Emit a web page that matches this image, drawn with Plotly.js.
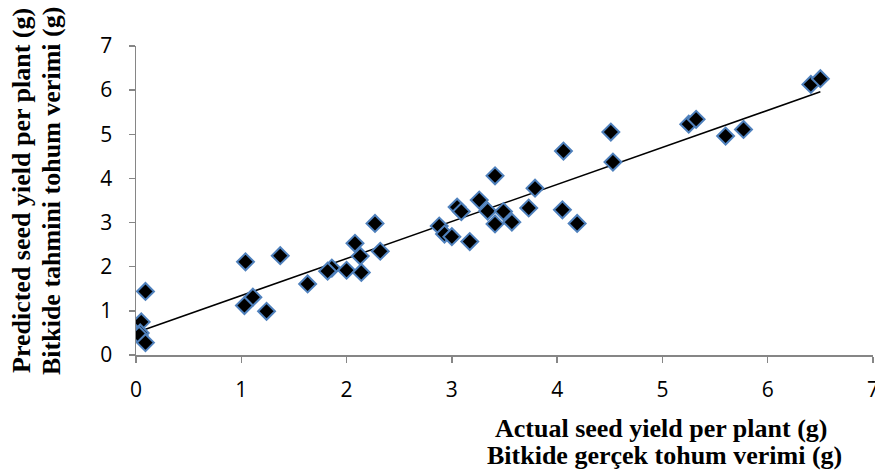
<!DOCTYPE html>
<html>
<head>
<meta charset="utf-8">
<script src="https://cdn.plot.ly/plotly-3.0.1.min.js"></script>
<style>html,body{margin:0;padding:0;background:#fff;}#chart{width:875px;height:472px;}</style>
</head>
<body>
<div id="chart"></div>
<script>
const actual = [0.09,0.05,0.04,0.03,0.09,1.04,1.37,1.63,1.11,1.03,1.24,2.27,2.08,2.32,2.13,1.86,1.82,2.00,2.14,2.88,2.93,3.00,3.17,3.05,3.09,3.26,3.34,3.49,3.41,3.57,3.73,3.79,3.41,4.06,4.05,4.19,4.51,4.53,5.25,5.32,5.60,5.77,6.41,6.50];
const predicted = [1.44,0.75,0.50,0.45,0.28,2.11,2.25,1.61,1.31,1.12,0.99,2.98,2.53,2.35,2.24,1.97,1.90,1.92,1.87,2.92,2.74,2.68,2.57,3.35,3.25,3.51,3.26,3.25,2.97,3.01,3.33,3.78,4.06,4.62,3.29,2.98,5.05,4.37,5.23,5.34,4.96,5.11,6.13,6.26];
const xTitleLines = ["Actual seed yield per plant (g)", "Bitkide gerçek tohum verimi (g)"];
const yTitleLines = ["Predicted seed yield per plant (g)", "Bitkide tahmini tohum verimi (g)"];

// linear trendline (least squares) from the data
const n = actual.length;
const mx = actual.reduce((a,b)=>a+b,0)/n;
const my = predicted.reduce((a,b)=>a+b,0)/n;
let sxy=0, sxx=0;
for (let i=0;i<n;i++){ sxy+=(actual[i]-mx)*(predicted[i]-my); sxx+=(actual[i]-mx)**2; }
const slope = sxy/sxx, icpt = my - slope*mx;
const xmin = Math.min(...actual), xmax = Math.max(...actual);
const trendX = [xmin, xmax];
const trendY = trendX.map(v => icpt + slope*v);

const traces = [
  {x: trendX, y: trendY, mode:'lines', line:{color:'#000', width:1.5}, hoverinfo:'skip', showlegend:false},
  {x: actual, y: predicted, mode:'markers', type:'scatter', showlegend:false,
   marker:{symbol:'diamond', size:13, color:'#000', line:{color:'#4f81bd', width:2}}}
];
const tickFont = {family:'"Open Sans", "Liberation Sans", sans-serif', size:21, color:'#000'};
const titleFont = {family:'"Liberation Serif", "Times New Roman", serif', size:26, color:'#000'};
const L = 136, W = 737, T = 46, H = 309;
const px = v => (v - L)/W;
const py = v => (T + H - v)/H;
const layout = {
  width:875, height:472,
  margin:{l:L, r:875-L-W, t:T, b:472-T-H},
  paper_bgcolor:'#fff', plot_bgcolor:'#fff',
  showlegend:false,
  xaxis:{range:[0,7], dtick:1, tick0:0, showgrid:false, zeroline:false, showline:true, linecolor:'#868686', linewidth:1.5,
         ticks:'outside', ticklen:6, tickcolor:'#868686', tickwidth:1.5, tickfont:tickFont, ticklabelstandoff:9,
         ticklabeloverflow:'allow', fixedrange:true},
  yaxis:{range:[0,7], dtick:1, tick0:0, showgrid:false, zeroline:false, showline:true, linecolor:'#868686', linewidth:1.5,
         ticks:'outside', ticklen:6, tickcolor:'#868686', tickwidth:1.5, tickfont:tickFont, ticklabelstandoff:12,
         ticklabeloverflow:'allow', fixedrange:true},
  annotations:[
    {xref:'paper', yref:'paper', x:px(661), y:py(428), xanchor:'center', yanchor:'middle', showarrow:false,
     text:'<b>'+xTitleLines[0]+'</b>', font:titleFont},
    {xref:'paper', yref:'paper', x:px(664), y:py(455), xanchor:'center', yanchor:'middle', showarrow:false,
     text:'<b>'+xTitleLines[1]+'</b>', font:titleFont},
    {xref:'paper', yref:'paper', x:px(21), y:py(191), xanchor:'center', yanchor:'middle', showarrow:false, textangle:-90,
     text:'<b>'+yTitleLines[0]+'</b>', font:titleFont},
    {xref:'paper', yref:'paper', x:px(51), y:py(191), xanchor:'center', yanchor:'middle', showarrow:false, textangle:-90,
     text:'<b>'+yTitleLines[1]+'</b>', font:titleFont}
  ]
};
Plotly.newPlot('chart', traces, layout, {displayModeBar:false, staticPlot:true});
</script>
</body>
</html>
